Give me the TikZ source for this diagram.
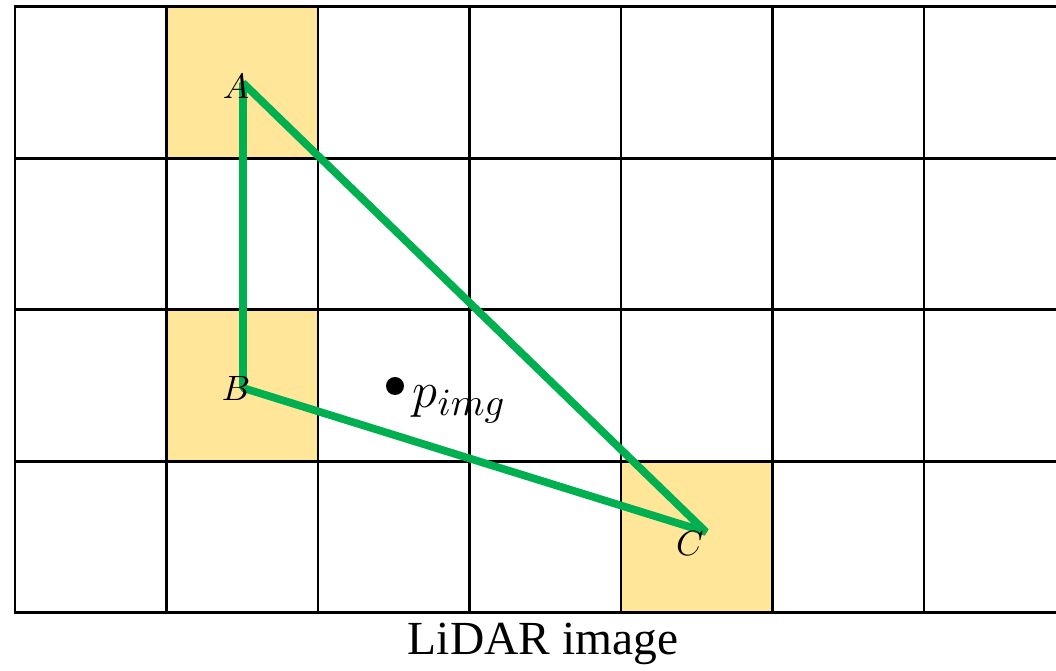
\documentclass[tikz,border=0pt]{standalone}
\usepackage{fontspec}
\newfontfamily\capfont{Liberation Serif}
\definecolor{cellyellow}{HTML}{FFE699}
\definecolor{trigreen}{HTML}{00B050}

\begin{document}
\begin{tikzpicture}[
    x=0.01cm, y=-0.01cm,
    cell/.style={fill=cellyellow, draw=none},
    gridline/.style={line width=0.85pt, line cap=rect},
    edge/.style={draw=trigreen, line width=2.2pt, line join=bevel},
    vlabel/.style={font=\fontsize{10}{12}\selectfont, inner sep=0pt},
]
    \useasboundingbox (0,0) rectangle (1056,671);

    % marked pixels
    \fill[cell] (166.5,7) rectangle (318,158.5);
    \fill[cell] (166.5,310) rectangle (318,461.5);
    \fill[cell] (621,461.5) rectangle (772.5,613);

    % pixel grid
    \foreach \gx in {15,166.5,318,469.5,621,772.5,924}
        \draw[gridline] (\gx,7) -- (\gx,613);
    \foreach \gy in {7,158.5,310,461.5,613}
        \draw[gridline] (15,\gy) -- (1056,\gy);

    % projected triangle
    \coordinate (A) at (243,83);
    \coordinate (B) at (243,388);
    \coordinate (C) at (706,532);
    \draw[edge] (A) -- (B) -- (C) -- cycle;
    \node[vlabel] (labA) at (236,87) {$A$};
    \node[vlabel] (labB) at (236,389) {$B$};
    \node[vlabel] (labC) at (690,544) {$C$};

    \node[circle, fill, inner sep=0pt, minimum size=0.18cm] (pimg) at (395,386) {};
    \node[anchor=west, inner sep=0pt, font=\fontsize{15.5}{18}\selectfont] (pimglab) at (412,404) {$p_{img}$};

    \node[font=\capfont\fontsize{13.5}{16}\selectfont] (caption) at (543,644) {LiDAR image};
\end{tikzpicture}
\end{document}
